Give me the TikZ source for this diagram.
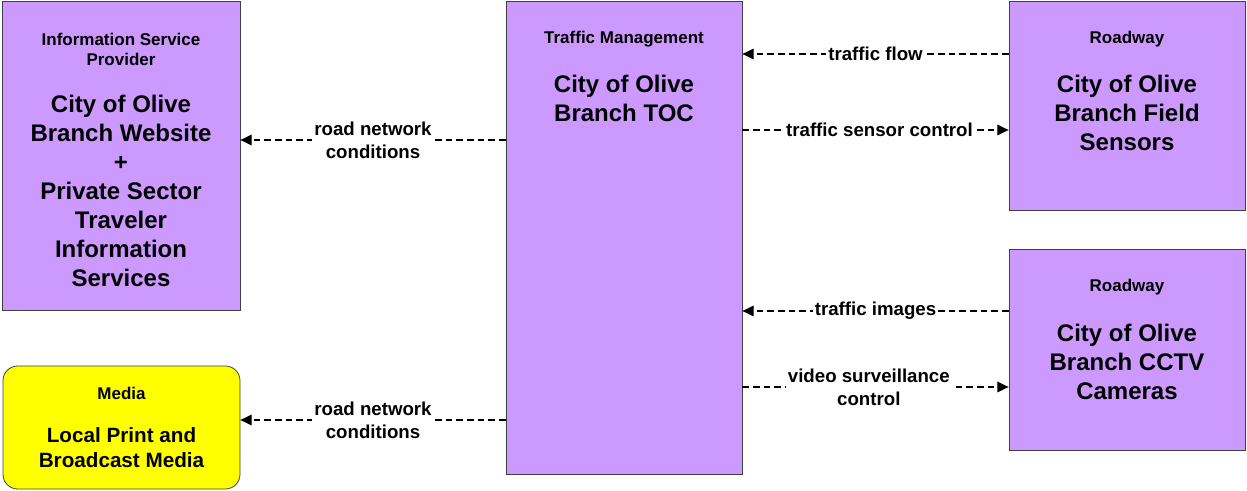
\documentclass[tikz,border=0pt]{standalone}
\usepackage{fontspec}
\setmainfont{Liberation Sans}
\usetikzlibrary{arrows.meta}
\definecolor{boxpurple}{HTML}{CC99FF}
\definecolor{boxyellow}{HTML}{FFFF00}
\tikzset{
  elem/.style={draw=black!75, line width=0.6pt, fill=boxpurple, inner sep=0pt},
  medbox/.style={elem, fill=boxyellow, rounded corners=11pt},
  hdr/.style={font=\bfseries\fontsize{12.75}{15}\selectfont, align=center, inner sep=0pt},
  mainlbl/.style={font=\bfseries\fontsize{18}{21.75}\selectfont, align=center, inner sep=0pt},
  medlbl/.style={font=\bfseries\fontsize{15.5}{18.75}\selectfont, align=center, inner sep=0pt},
  conn/.style={dashed, dash pattern=on 5pt off 3pt, line width=0.9pt, -{Triangle[length=8.5pt,width=8pt]}},
  flowlbl/.style={font=\bfseries\fontsize{14}{17.25}\selectfont, align=center, fill=white, inner sep=1.5pt}
}
\begin{document}
\begin{tikzpicture}[x=0.75pt, y=-0.75pt]
\useasboundingbox (0,0) rectangle (1247,491);
% boxes
\node[elem, minimum width=178.5pt, minimum height=231.75pt] (isp) at (121,155.5) {};
\node[elem, minimum width=177pt, minimum height=354.75pt] (tm) at (624,237.5) {};
\node[elem, minimum width=177pt, minimum height=156.75pt] (r1) at (1127,105.5) {};
\node[elem, minimum width=177pt, minimum height=150.75pt] (r2) at (1127,349.5) {};
\node[medbox, minimum width=177.75pt, minimum height=92.25pt] (med) at (121.5,427.5) {};
% headers
\node[hdr] (isph) at (121,49) {Information Service\\Provider};
\node[hdr] (tmh) at (624,39.5) {Traffic Management};
\node[hdr] (r1h) at (1127,39.5) {Roadway};
\node[hdr] (r2h) at (1127,287.5) {Roadway};
\node[hdr] (medh) at (121.5,393) {Media};
% main labels
\node[mainlbl] (ispm) at (121,191) {City of Olive\\Branch Website\\+\\Private Sector\\Traveler\\Information\\Services};
\node[mainlbl] (tmm) at (624,98) {City of Olive\\Branch TOC};
\node[mainlbl] (r1m) at (1127,112.5) {City of Olive\\Branch Field\\Sensors};
\node[mainlbl] (r2m) at (1127,361.5) {City of Olive\\Branch CCTV\\Cameras};
\node[medlbl] (medm) at (121.5,448) {Local Print and\\Broadcast Media};
% connector levels
\coordinate (y1) at (0,140);
\coordinate (y2) at (0,420);
\coordinate (y3) at (0,54);
\coordinate (y4) at (0,130);
\coordinate (y5) at (0,311);
\coordinate (y6) at (0,387);
% connectors
\draw[conn] (tm.west |- y1) -- node[flowlbl] {road network\\conditions} (isp.east |- y1);
\draw[conn] (tm.west |- y2) -- node[flowlbl] {road network\\conditions} (med.east |- y2);
\draw[conn] (r1.west |- y3) -- node[flowlbl] {traffic flow} (tm.east |- y3);
\draw[conn] (tm.east |- y4) -- node[flowlbl, xshift=3pt] {traffic sensor control} (r1.west |- y4);
\draw[conn] (r2.west |- y5) -- node[flowlbl] {traffic images} (tm.east |- y5);
\draw[conn] (tm.east |- y6) -- node[flowlbl, xshift=-5pt] {video surveillance\\control} (r2.west |- y6);
\end{tikzpicture}
\end{document}
